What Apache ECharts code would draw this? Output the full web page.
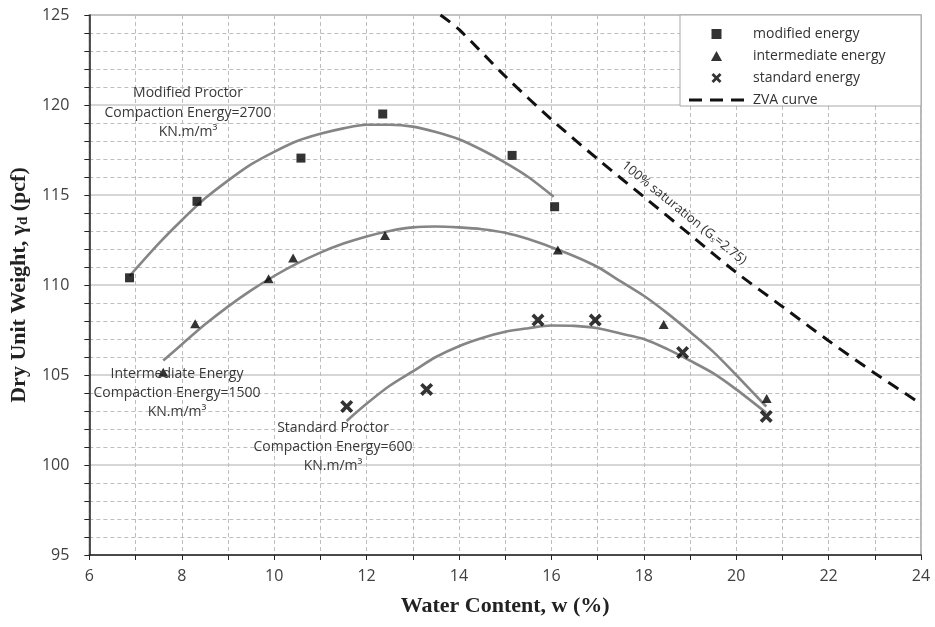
<!DOCTYPE html>
<html>
<head>
<meta charset="utf-8">
<style>html,body{margin:0;padding:0;background:#fff}#c{width:935px;height:627px}</style>
<script src="https://cdn.jsdelivr.net/npm/echarts@6/dist/echarts.min.js"></script>
</head>
<body>
<div id="c"></div>
<script>
// Measured points [water content %, dry unit weight pcf]
const modifiedPts = [[6.87,110.4],[8.33,114.65],[10.58,117.05],[12.35,119.5],[15.15,117.2],[16.07,114.35]];
const intermediatePts = [[7.6,105.15],[8.29,107.85],[9.88,110.35],[10.41,111.5],[12.4,112.75],[16.14,111.95],[18.43,107.8],[20.66,103.7]];
const standardPts = [[11.57,103.25],[13.3,104.2],[15.71,108.05],[16.95,108.05],[18.84,106.25],[20.65,102.7]];
// Fitted curves
const modifiedCurve = [[6.87,110.5],[7.5,112.3],[8,113.6],[8.5,114.8],[9,115.8],[9.5,116.7],[10,117.4],[10.5,118.0],[11,118.4],[11.5,118.7],[12,118.9],[12.5,118.9],[13,118.8],[13.5,118.5],[14,118.1],[14.5,117.5],[15,116.8],[15.5,116.0],[16.05,114.9]];
const intermediateCurve = [[7.6,105.8],[8,106.7],[8.5,107.8],[9,108.8],[9.5,109.7],[10,110.5],[10.5,111.2],[11,111.8],[11.5,112.3],[12,112.7],[12.5,113.0],[13,113.2],[13.5,113.25],[14,113.2],[14.5,113.1],[15,112.9],[15.5,112.55],[16,112.1],[16.5,111.6],[17,111.0],[17.5,110.2],[18,109.4],[18.5,108.45],[19,107.4],[19.5,106.3],[20,105.0],[20.65,103.25]];
const standardCurve = [[11.57,102.45],[12,103.4],[12.5,104.4],[13,105.2],[13.5,106.0],[14,106.6],[14.5,107.05],[15,107.4],[15.5,107.6],[16,107.75],[16.5,107.73],[17,107.6],[17.5,107.3],[18,107.0],[18.5,106.45],[19,105.8],[19.5,105.1],[20,104.2],[20.65,102.9]];
const zvaCurve = [[13.6,125],[14,124.2],[15,121.6],[16,119.2],[17,117.0],[18,114.9],[19,112.8],[20,110.7],[21,108.8],[22,106.9],[23,105.1],[24,103.4]];
const legendNames = ['modified energy','intermediate energy','standard energy','ZVA curve'];

const chart = echarts.init(document.getElementById('c'));
const labelFont = 'Open Sans';
const sqPath = 'path://M0,0 L10,0 L10,10 L0,10 Z';
const triPath = 'path://M5,0 L10,9 L0,9 Z';
const xPath = 'path://M0,2 L2,0 L5,3 L8,0 L10,2 L7,5 L10,8 L8,10 L5,7 L2,10 L0,8 L3,5 Z';
const dashPath = 'path://M0,0 L13,0 L13,3 L0,3 Z M21,0 L34,0 L34,3 L21,3 Z M42,0 L55,0 L55,3 L42,3 Z';
const curveStyle = {color:'#858585', width:2.6};
chart.setOption({
  animation:false,
  grid:{left:87, top:15, right:14, bottom:72, show:true, borderColor:'#a0a0a0', borderWidth:1.5},
  xAxis:{type:'value', min:6, max:24, interval:2,
    axisLine:{lineStyle:{color:'#222', width:1.5}},
    axisTick:{show:true, length:5, lineStyle:{color:'#222'}},
    minorTick:{show:true, splitNumber:2, length:5, lineStyle:{color:'#222'}},
    splitLine:{show:true, lineStyle:{color:'#bdbdbd', type:[4,3], width:1}},
    minorSplitLine:{show:true, lineStyle:{color:'#bdbdbd', type:[4,3], width:1}},
    axisLabel:{fontFamily:labelFont, fontSize:16, color:'#404040', margin:13},
    name:'Water Content, w (%)', nameLocation:'middle', nameGap:40,
    nameTextStyle:{fontFamily:'Liberation Serif', fontWeight:'bold', fontSize:22, color:'#222'}
  },
  yAxis:{type:'value', min:95, max:125, interval:5,
    axisLine:{lineStyle:{color:'#222', width:1.5}},
    axisTick:{show:true, length:5, lineStyle:{color:'#222'}},
    minorTick:{show:true, splitNumber:5, length:5, lineStyle:{color:'#222'}},
    splitLine:{show:true, lineStyle:{color:'#c8c8c8', width:1.5}},
    minorSplitLine:{show:true, lineStyle:{color:'#bdbdbd', type:[4,3], width:1}},
    axisLabel:{fontFamily:labelFont, fontSize:16, color:'#404040', margin:20},
    name:'Dry Unit Weight, γ{sub|d} (pcf)', nameLocation:'middle', nameGap:53, nameRotate:90,
    nameTextStyle:{fontFamily:'Liberation Serif', fontWeight:'bold', fontSize:22, color:'#222',
      rich:{sub:{fontFamily:'Liberation Serif', fontWeight:'bold', fontSize:15, color:'#222', verticalAlign:'bottom', padding:[9,0,0,0]}}}
  },
  legend:{left:684, top:22, orient:'vertical', itemWidth:55, itemHeight:10, itemGap:8,
    data:[
      {name:legendNames[0], icon:sqPath},
      {name:legendNames[1], icon:triPath},
      {name:legendNames[2], icon:xPath},
      {name:legendNames[3], icon:dashPath, itemStyle:{color:'#111'}}
    ],
    textStyle:{fontFamily:labelFont, fontSize:14, color:'#333', padding:[0,0,0,4]}, z:20},
  graphic:[
    {type:'rect', z:15, shape:{x:680, y:15, width:241, height:91}, style:{fill:'#fff', stroke:'#a8a8a8', lineWidth:1}},
    {type:'text', z:10, x:188, y:113, style:{text:'Modified Proctor\nCompaction Energy=2700\nKN.m/m³', textAlign:'center', textVerticalAlign:'middle', fontFamily:labelFont, fontSize:14, lineHeight:19.5, fill:'#383838'}},
    {type:'text', z:10, x:177, y:393, style:{text:'Intermediate Energy\nCompaction Energy=1500\nKN.m/m³', textAlign:'center', textVerticalAlign:'middle', fontFamily:labelFont, fontSize:14, lineHeight:19, fill:'#383838'}},
    {type:'text', z:10, x:333, y:447, style:{text:'Standard Proctor\nCompaction Energy=600\nKN.m/m³', textAlign:'center', textVerticalAlign:'middle', fontFamily:labelFont, fontSize:14, lineHeight:19, fill:'#383838'}},
    {type:'text', z:10, x:684, y:213, rotation:-0.68, style:{text:'100% saturation (G{s|s}=2.75)', textAlign:'center', textVerticalAlign:'middle', fontFamily:labelFont, fontSize:13, fill:'#333',
      rich:{s:{fontFamily:labelFont, fontSize:8, fill:'#333', verticalAlign:'bottom', padding:[6,0,0,0]}}}}
  ],
  series:[
    {name:'modified curve', type:'line', data:modifiedCurve, smooth:0.3, showSymbol:false, lineStyle:curveStyle, z:2},
    {name:'intermediate curve', type:'line', data:intermediateCurve, smooth:0.3, showSymbol:false, lineStyle:curveStyle, z:2},
    {name:'standard curve', type:'line', data:standardCurve, smooth:0.3, showSymbol:false, lineStyle:curveStyle, z:2},
    {name:'ZVA curve', type:'line', data:zvaCurve, smooth:0.3, showSymbol:false, symbol:'none', lineStyle:{color:'#111', width:3, type:[12,8]}, itemStyle:{color:'#111'}, z:3},
    {name:'modified energy', type:'scatter', data:modifiedPts, symbol:sqPath, symbolSize:9, itemStyle:{color:'#000'}, z:4},
    {name:'intermediate energy', type:'scatter', data:intermediatePts, symbol:triPath, symbolSize:[10,9], itemStyle:{color:'#000'}, z:4},
    {name:'standard energy', type:'scatter', data:standardPts, symbol:xPath, symbolSize:13, itemStyle:{color:'#000'}, z:4}
  ]
});
</script>
</body>
</html>
